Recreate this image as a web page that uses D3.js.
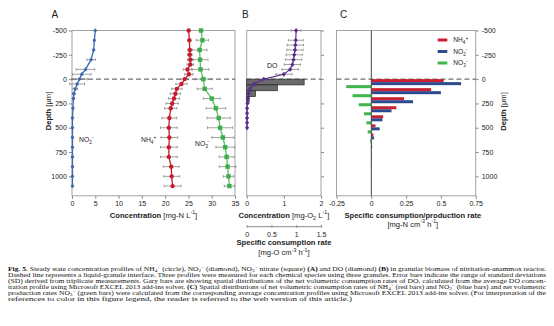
<!DOCTYPE html>
<html><head><meta charset="utf-8">
<script src="https://cdn.jsdelivr.net/npm/d3@7"></script>
<style>
body{margin:0;background:#fff;}
svg{display:block;font-family:"Liberation Sans",Arial,sans-serif;}
</style></head><body>
<svg id="fig" width="554" height="326"></svg>
<script>
// ---------- Panel A: concentration profiles (mg-N/L) ----------
const depthNO2 = [-500,-400,-300,-200,-100,-50,0,50,100,150,200,300,400,500,600,700,800,900,1000,1100];
const no2Conc  = [5.0,4.8,4.65,4.1,2.9,2.1,1.6,1.1,0.7,0.4,0.3,0.2,0.1,0.1,0.1,0.1,0.1,0.1,0.1,0.1];
const no2Sd    = [0,0.1,0.2,0.9,2.0,2.0,1.7,1.6,0.5,0.3,0.2,0.1,0.1,0.1,0.1,0.1,0.1,0.1,0.1,0.1];

const depthNH4 = [-500,-400,-300,-250,-200,-150,-100,-50,0,50,100,150,200,250,300,400,500,600,700,800,900,1000,1100];
const nh4Conc  = [25.05,25.2,25.3,25.3,25.4,25.4,24.8,25.1,24.2,23.5,22.5,22.2,21.9,21.5,21.2,20.9,20.8,20.9,20.8,20.8,21.3,21.4,21.6];
const nh4Sd    = [0.2,0.3,0.4,0.5,0.6,0.7,0.9,0.9,0.8,1.2,1.1,1.1,1.2,1.3,1.3,1.6,1.8,1.8,1.8,1.8,1.7,1.7,1.8];

const depthNO3 = [-500,-400,-300,-200,-100,0,100,200,300,400,500,600,700,800,900,1000,1100];
const no3Conc  = [27.7,28.0,27.4,27.5,27.6,28.2,28.5,30.0,30.9,31.5,31.8,32.4,32.9,33.2,33.4,33.6,33.8];
const no3Sd    = [0.3,1.3,1.6,1.7,1.8,1.7,1.6,1.8,2.1,2.5,2.7,2.4,2.0,1.6,1.8,1.1,1.1];

// ---------- Panel B: dissolved oxygen and its consumption rate ----------
const depthDO = [-500,-400,-350,-300,-250,-200,-150,-100,-50,0,50,100,150,200,250,300,350,400,450,500];
const doConc  = [1.33,1.32,1.31,1.30,1.28,1.26,1.23,1.17,1.0,0.46,0.2,0.09,0.05,0.03,0.02,0.01,0.01,0.01,0.01,0.01];
const doSd    = [0.13,0.2,0.22,0.22,0.22,0.22,0.22,0.22,0.22,0,0,0,0,0,0,0,0,0,0,0];
const doBinTop    = [0,60,120,180];
const doBinBottom = [60,120,180,240];
const doRate      = [1.16,0.62,0.18,0.05];

// ---------- Panel C: net consumption / production rates ----------
const rateTop = [0,93,186,279,372,465,558,651,744,837];
const rateStep = 93;
const nh4Rate = [0.52,0.43,0.235,0.18,0.085,0.03,0.015,0.005,0.004,0.003];
const no2Rate = [0.645,0.50,0.30,0.145,0.08,0.06,0.02,0.006,0.004,0.003];
const no3Rate = [-0.18,-0.135,-0.09,-0.052,-0.035,-0.026,-0.008,-0.003,-0.002,-0.001];

// ---------- tick values ----------
const depthTicks = [-500,-250,0,250,500,750,1000];
const concTicksA = [0,5,10,15,20,25,30,35];
const concTicksB = [0,1,2];
const rateTicksB = [0,0.5,1,1.5];
const rateTicksC = [-0.25,0,0.25,0.5,0.75];

const colNH4 = "#c61d2c", colNO2 = "#3e67b1", colNO3 = "#3aae48", colDO = "#5b2d8e";
const barNH4 = "#c8202f", barNO2 = "#2d4a8e", barNO3 = "#3fb54b";
const frameCol = "#a3a3a3", textCol = "#222", errCol = "#7a7a7a";
const tickFs = 7, titleFs = 7.6;

const svg = d3.select("#fig");
svg.append("rect").attr("width",554).attr("height",326).attr("fill","#fff");

const y = d3.scaleLinear().domain([-500,1200]).range([30.5,195.8]);
const xA = d3.scaleLinear().domain([0,35]).range([72,235]);
const xB = d3.scaleLinear().domain([0,2]).range([246.7,321]);
const xB2 = d3.scaleLinear().domain([0,1.5]).range([246.7,321]);
const xC = d3.scaleLinear().domain([-0.25,0.75]).range([336.5,475.7]);

// rich text with bold / sub / sup segments
function rich(sel, parts, fs, subK = 0.3, supK = 0.42) {
  let shift = 0;
  parts.forEach(([t, st]) => {
    const ts = sel.append("tspan").text(t);
    let target = 0, size = fs;
    if (st === "sub") { target = fs*subK; size = fs*0.7; }
    if (st === "sup") { target = -fs*supK; size = fs*0.7; }
    if (st === "b") ts.attr("font-weight","bold");
    ts.attr("font-size", size);
    const dy = target - shift;
    if (dy) ts.attr("dy", dy.toFixed(2));
    shift = target;
  });
  return sel;
}

function frame(x) {
  const [x0,x1] = x.range(), [y0,y1] = y.range();
  svg.append("rect").attr("x",x0).attr("y",y0).attr("width",x1-x0).attr("height",y1-y0)
    .attr("fill","none").attr("stroke",frameCol).attr("stroke-width",1);
}
function styleAxis(g) {
  g.select(".domain").remove();
  g.selectAll(".tick line").attr("stroke","#8a8a8a");
  g.selectAll(".tick text").attr("fill",textCol).attr("font-size",tickFs)
    .attr("font-family","Liberation Sans, Arial, sans-serif");
}
function dashed(x) {
  svg.append("line").attr("x1",x.range()[0]).attr("x2",x.range()[1])
    .attr("y1",y(0)).attr("y2",y(0))
    .attr("stroke","#333").attr("stroke-width",0.9).attr("stroke-dasharray","5,3");
}
function errorBars(x, depths, vals, sds) {
  const g = svg.append("g").attr("stroke",errCol).attr("stroke-width",0.7).attr("fill","none");
  depths.forEach((d,i) => {
    if (!sds[i]) return;
    const a = x(vals[i]-sds[i]), b = x(vals[i]+sds[i]), yy = y(d);
    g.append("line").attr("x1",a).attr("x2",b).attr("y1",yy).attr("y2",yy);
    g.append("line").attr("x1",a).attr("x2",a).attr("y1",yy-1.3).attr("y2",yy+1.3);
    g.append("line").attr("x1",b).attr("x2",b).attr("y1",yy-1.3).attr("y2",yy+1.3);
  });
}
function profile(x, depths, vals, col, lw) {
  const line = d3.line().x((d,i)=>x(vals[i])).y(d=>y(d));
  svg.append("path").datum(depths).attr("d",line).attr("fill","none")
    .attr("stroke",col).attr("stroke-width",lw);
}
const diamondPath = (w,h) => `M0,${-h}L${w},0L0,${h}L${-w},0Z`;
function markers(x, depths, vals, col, shape) {
  const g = svg.append("g").attr("fill",col);
  depths.forEach((d,i) => {
    const cx = x(vals[i]), cy = y(d);
    if (shape === "circle") g.append("circle").attr("cx",cx).attr("cy",cy).attr("r",2.2);
    else if (shape === "square") g.append("rect").attr("x",cx-2.2).attr("y",cy-2.2).attr("width",4.4).attr("height",4.4);
    else g.append("path").attr("transform",`translate(${cx},${cy})`).attr("d",diamondPath(shape[0],shape[1]));
  });
}

// ===== Panel A =====
frame(xA);
dashed(xA);
svg.append("g").attr("transform",`translate(${xA.range()[0]},0)`)
  .call(d3.axisLeft(y).tickValues(depthTicks).tickSize(3).tickPadding(2.2).tickFormat(String)).call(styleAxis);
svg.append("g").attr("transform",`translate(0,${y.range()[1]})`)
  .call(d3.axisBottom(xA).tickValues(concTicksA).tickSize(3).tickPadding(1.8).tickFormat(String)).call(styleAxis);

errorBars(xA, depthNO2, no2Conc, no2Sd);
errorBars(xA, depthNH4, nh4Conc, nh4Sd);
errorBars(xA, depthNO3, no3Conc, no3Sd);
profile(xA, depthNO2, no2Conc, colNO2, 1.3);
profile(xA, depthNH4, nh4Conc, colNH4, 1.3);
profile(xA, depthNO3, no3Conc, "#5cbf63", 1.3);
markers(xA, depthNO2, no2Conc, colNO2, [1.9,2.2]);
markers(xA, depthNH4, nh4Conc, colNH4, "circle");
markers(xA, depthNO3, no3Conc, colNO3, "square");

const lab = (x, yy, parts, fs, anchor) => rich(svg.append("text").attr("x",x).attr("y",yy)
  .attr("fill",textCol).attr("font-size",fs).attr("text-anchor",anchor||"start"), parts, fs);

lab(79, 141.5, [["NO"],["2","sub"],["-","sup"]], 6.8);
lab(141, 141.5, [["NH"],["4","sub"],["+","sup"]], 6.8);
lab(195, 145.5, [["NO"],["3","sub"],["-","sup"]], 6.8);

lab((xA.range()[0]+xA.range()[1])/2, 217.5, [["Concentration ","b"],["[mg-N L"],["-1","sup"],["]"]], titleFs, "middle");
svg.append("text").attr("transform","translate(50.5,111) rotate(-90)").attr("text-anchor","middle")
  .attr("fill",textCol).attr("font-size",titleFs)
  .call(t => rich(t, [["Depth ","b"],["[μm]"]], titleFs));
lab(51.5, 17.5, [["A"]], 10);

// ===== Panel B =====
frame(xB);
dashed(xB);
svg.append("g").attr("transform",`translate(${xB.range()[1]},0)`)
  .call(d3.axisRight(y).tickValues(depthTicks).tickSize(3).tickFormat("")).call(styleAxis);
svg.append("g").attr("transform",`translate(0,${y.range()[1]})`)
  .call(d3.axisBottom(xB).tickValues(concTicksB).tickSize(3).tickPadding(1.8).tickFormat(String)).call(styleAxis);

// consumption-rate bars (secondary scale)
svg.append("g").selectAll("rect").data(doRate).join("rect")
  .attr("x", xB2(0)).attr("y",(d,i)=>y(doBinTop[i]))
  .attr("width",d=>xB2(d)-xB2(0)).attr("height",(d,i)=>y(doBinBottom[i])-y(doBinTop[i]))
  .attr("fill","#6a6a6a").attr("stroke","#1c1c1c").attr("stroke-width",0.6);

errorBars(xB, depthDO, doConc, doSd);
profile(xB, depthDO, doConc, colDO, 1.2);
markers(xB, depthDO, doConc, colDO, [2.1,2.4]);
lab(267, 68, [["DO"]], 7);

lab((xB.range()[0]+xB.range()[1])/2, 217.5, [["Concentration ","b"],["[mg-O"],["2","sub"],[" L"],["-1","sup"],["]"]], titleFs, "middle");
const axB2 = svg.append("g").attr("transform","translate(0,226.7)")
  .call(d3.axisBottom(xB2).tickValues(rateTicksB).tickSize(2).tickPadding(3.5).tickFormat(String));
axB2.select(".domain").attr("stroke","#8a8a8a").attr("d",`M${xB2.range()[0]},0H${xB2.range()[1]}`);
axB2.selectAll(".tick line").attr("stroke","#8a8a8a").attr("y1",-1.5).attr("y2",1);
axB2.selectAll(".tick text").attr("fill",textCol).attr("font-size",tickFs);
lab(284, 245.3, [["Specific consumption rate","b"]], titleFs, "middle");
lab(284, 254.8, [["[mg-O cm"],["-3","sup"],[" h"],["-1","sup"],["]"]], titleFs, "middle");
lab(242, 17.5, [["B"]], 10);

// ===== Panel C =====
frame(xC);
dashed(xC);
svg.append("g").attr("transform",`translate(${xC.range()[1]},0)`)
  .call(d3.axisRight(y).tickValues(depthTicks).tickSize(3).tickPadding(3).tickFormat(String)).call(styleAxis);
svg.append("g").attr("transform",`translate(0,${y.range()[1]})`)
  .call(d3.axisBottom(xC).tickValues(rateTicksC).tickSize(3).tickPadding(1.8).tickFormat(String)).call(styleAxis);

const band = rateStep/3;
[[nh4Rate,barNH4,0],[no2Rate,barNO2,1],[no3Rate,barNO3,2]].forEach(([vals,col,k]) => {
  svg.append("g").selectAll("rect").data(vals).join("rect")
    .attr("x",d=>Math.min(xC(0),xC(d))).attr("width",d=>Math.abs(xC(d)-xC(0)))
    .attr("y",(d,i)=>y(rateTop[i]+k*band)).attr("height",y(band)-y(0))
    .attr("fill",col);
});
svg.append("line").attr("x1",xC(0)).attr("x2",xC(0)).attr("y1",y.range()[0]).attr("y2",y.range()[1])
  .attr("stroke","#444").attr("stroke-width",1);

// legend
const legend = [[barNH4,[["NH"],["4","sub"],["+","sup"]]],[barNO2,[["NO"],["2","sub"],["-","sup"]]],[barNO3,[["NO"],["3","sub"],["-","sup"]]]];
legend.forEach(([col,parts],i) => {
  const yy = 40 + i*11.5;
  svg.append("rect").attr("x",437.7).attr("y",yy-1.5).attr("width",9.6).attr("height",3).attr("fill",col);
  lab(453.3, yy+2.3, parts, 6.6);
});

lab(412.8, 217.5, [["Specific consumption/production rate","b"]], titleFs, "middle");
lab(412.8, 226.5, [["[mg-N cm"],["-3","sup"],[" h"],["-1","sup"],["]"]], titleFs, "middle");
svg.append("text").attr("transform","translate(505.5,111.5) rotate(-90)").attr("text-anchor","middle")
  .attr("fill",textCol).attr("font-size",titleFs)
  .call(t => rich(t, [["Depth ","b"],["[μm]"]], titleFs));
lab(340, 17.5, [["C"]], 10);

// ===== Caption =====
const capFs = 5.2;
const capLines = [
  [[["Fig. 5.","b"],[" Steady state concentration profiles of NH"],["4","sub"],["+","sup"],[" (circle), NO"],["2","sub"],["−","sup"],[" (diamond), NO"],["3","sub"],["−","sup"],[" nitrate (square) "],["(A)","b"],[" and DO (diamond) "],["(B)","b"],[" in granular biomass of nitritation-anammox reactor."]], 538],
  [[["Dashed line represents a liquid-granule interface. Three profiles were measured for each chemical species using three granules. Error bars indicate the range of standard deviations"]], 538],
  [[["(SD) derived from triplicate measurements. Gary bars are showing spatial distributions of the net volumetric consumption rates of DO, calculated from the average DO concen-"]], 538],
  [[["tration profile using Microsoft EXCEL 2013 add-ins solver. "],["(C)","b"],[" Spatial distributions of net volumetric consumption rates of NH"],["4","sub"],["+","sup"],[" (red bars) and NO"],["2","sub"],["−","sup"],[" (blue bars) and net volumetric"]], 538],
  [[["production rates NO"],["3","sub"],["−","sup"],[" (green bars) were calculated from the corresponding average concentration profiles using Microsoft EXCEL 2013 add-ins solver. (For interpretation of the"]], 538],
  [[["references to color in this figure legend, the reader is referred to the web version of this article.)"]], 344]
];
capLines.forEach(([parts,len],i) => {
  const t = svg.append("text").attr("x",8).attr("y",270.6 + i*6.05)
    .attr("font-family","Liberation Serif, Times New Roman, serif").attr("font-size",capFs).attr("fill","#111")
    .attr("textLength",len).attr("lengthAdjust","spacingAndGlyphs");
  rich(t, parts, capFs, 0.18, 0.3);
});
</script></body></html>
